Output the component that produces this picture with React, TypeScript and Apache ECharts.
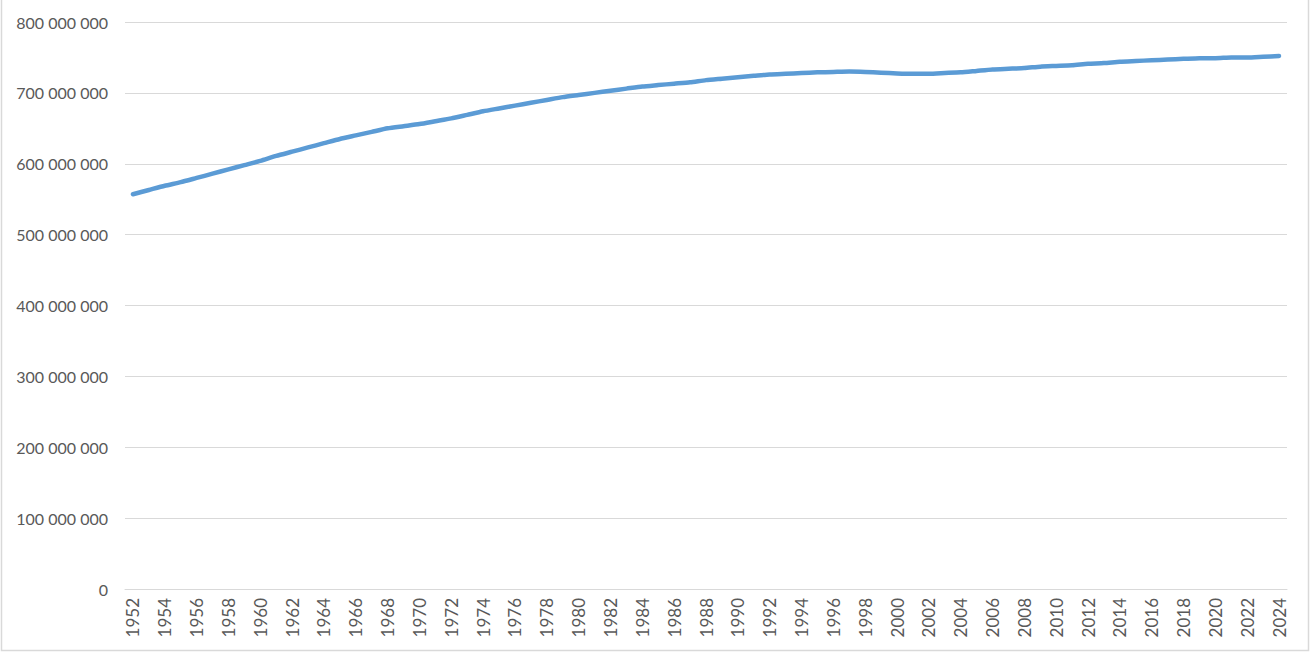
import React, { useEffect, useRef } from "react";
import * as echarts from "echarts";

const years: string[] = [];
for (let y = 1952; y <= 2024; y++) years.push(String(y));

// population, millions
const populationM: number[] = [
  557, 563, 569, 574, 580, 586, 592, 598, 604, 611,
  617, 623, 629, 635, 640, 645, 650, 653, 656, 660,
  664, 669, 674, 678, 682, 686, 690, 694, 697, 700,
  703, 706, 709, 711, 713, 715, 718, 720, 722, 724,
  726, 727, 728, 729, 729.5, 730, 729.5, 728.5, 727.5, 727,
  727, 728, 729, 731, 733, 734, 735, 737, 738, 739,
  741, 742, 744, 745, 746, 747, 748, 749, 749, 750,
  750, 751, 752,
];

const yMin = 0;
const yMax = 800000000;
const yStep = 100000000;

const fmt = (v: number) =>
  String(Math.round(v)).replace(/\B(?=(\d{3})+(?!\d))/g, " ");

export default function App() {
  const ref = useRef<HTMLDivElement>(null);
  useEffect(() => {
    if (!ref.current) return;
    const chart = echarts.init(ref.current, undefined, { renderer: "svg" });
    chart.setOption({
      animation: false,
      backgroundColor: "#ffffff",
      grid: { left: 125, right: 24, top: 22, bottom: 63, containLabel: false },
      xAxis: {
        type: "category",
        data: years,
        boundaryGap: true,
        axisLine: { show: true, lineStyle: { color: "#d9d9d9", width: 1 } },
        axisTick: { show: false },
        axisLabel: {
          interval: 1,
          rotate: 90,
          color: "#595959",
          fontFamily: "Lato",
          fontSize: 17,
          margin: 9,
        },
        splitLine: { show: false },
      },
      yAxis: {
        type: "value",
        min: yMin,
        max: yMax,
        interval: yStep,
        axisLine: { show: false },
        axisTick: { show: false },
        axisLabel: {
          color: "#595959",
          fontFamily: "Lato",
          fontSize: 16,
          margin: 17,
          formatter: (v: number) => fmt(v),
        },
        splitLine: { show: true, lineStyle: { color: "#d9d9d9", width: 1 } },
      },
      series: [
        {
          type: "line",
          data: populationM.map((v) => v * 1000000),
          showSymbol: false,
          symbol: "none",
          smooth: 0.2,
          lineStyle: { color: "#5b9bd5", width: 4.5, cap: "round", join: "round" },
        },
      ],
      graphic: [
        {
          type: "rect",
          shape: { x: 1.5, y: -2, width: 1307, height: 652.5 },
          style: { fill: "none", stroke: "#d9d9d9", lineWidth: 1.5 },
          silent: true,
        },
      ],
    });
    return () => chart.dispose();
  }, []);
  return (
    <div
      ref={ref}
      style={{ position: "fixed", left: 0, top: 0, width: 1311, height: 652 }}
    />
  );
}
